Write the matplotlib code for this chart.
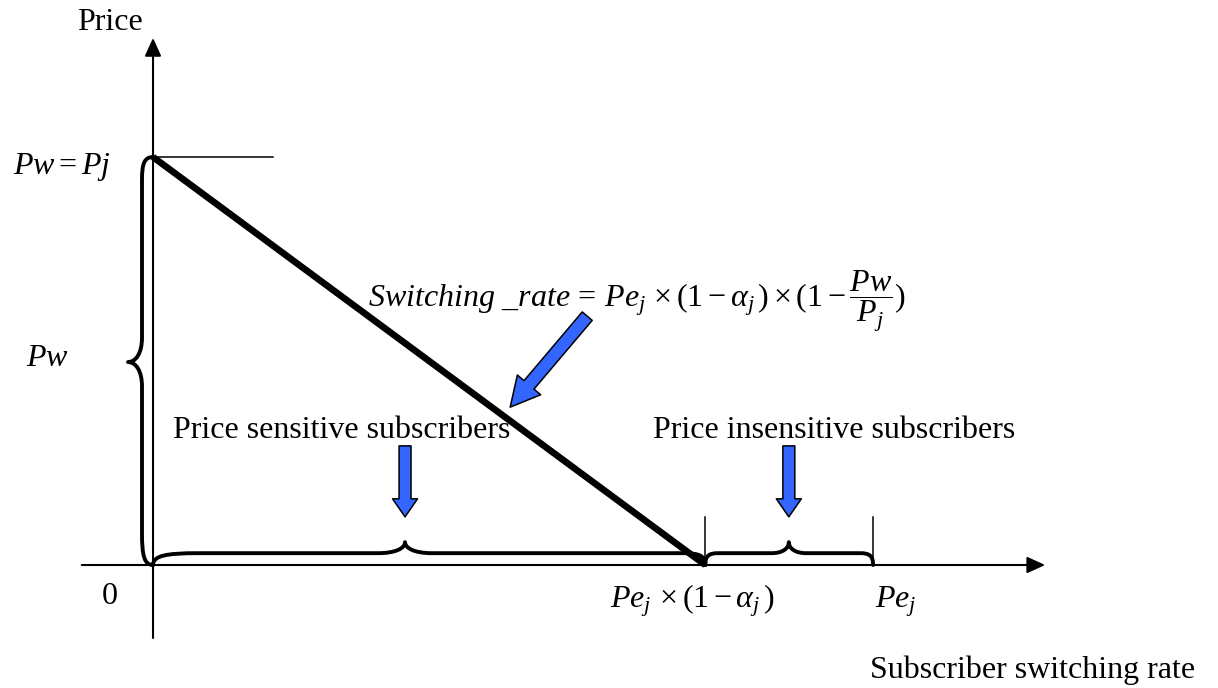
"""Subscriber switching-rate diagram: price vs. switching rate with braces."""

import matplotlib

matplotlib.use("Agg")
import matplotlib.pyplot as plt  # noqa: E402
from matplotlib.patches import FancyArrowPatch, PathPatch  # noqa: E402
from matplotlib.path import Path  # noqa: E402

plt.rcParams["font.family"] = ["Liberation Serif", "DejaVu Serif"]
plt.rcParams["mathtext.fontset"] = "custom"
plt.rcParams["mathtext.rm"] = "Liberation Serif"
plt.rcParams["mathtext.it"] = "Liberation Serif:italic"
plt.rcParams["mathtext.bf"] = "Liberation Serif:bold"

# Model values (price normalised to Pj, rate normalised to Pe_j)
PRICE_TOP = 1.0          # Pw = Pj
PE_J = 1.0               # Pe_j
ALPHA_J = 0.233          # share of price insensitive subscribers
SEGMENT_CUSPS = [0.35, 0.883]   # where each brace points up

AXIS_LABELS = ["Price", "Subscriber switching rate"]
SEGMENT_LABELS = ["Price sensitive subscribers", "Price insensitive subscribers"]
X_TICK_LABELS = ["0", r"$Pe_{j}\,\times(1-\alpha_{j}\,)$", r"$Pe_{j}$"]
Y_TICK_LABELS = [r"$Pw=Pj$", r"$Pw$"]
FORMULA = (r"$Switching\ \_rate\,=\,Pe_{j}\,\times(1-\alpha_{j}\,)"
           r"\times(1-\dfrac{Pw}{P_{j}})$")

BLUE = "#3366ff"
FONT_SIZE = 23


def brace(ax, start, end, cusp, flat, tip, curl_start, curl_cusp, curl_end,
          vertical=False, lw=2.8):
    """Curly brace along s from start to end, bulging by flat/tip across."""
    pts = [
        (start, 0),
        (start, flat * 0.8), (start + curl_start * 0.3, flat), (start + curl_start, flat),
        (cusp - curl_cusp, flat),
        (cusp - curl_cusp * 0.35, flat), (cusp, flat + (tip - flat) * 0.45), (cusp, tip),
        (cusp, flat + (tip - flat) * 0.45), (cusp + curl_cusp * 0.35, flat), (cusp + curl_cusp, flat),
        (end - curl_end, flat),
        (end - curl_end * 0.3, flat), (end, flat * 0.8), (end, 0),
    ]
    codes = ([Path.MOVETO] + [Path.CURVE4] * 3 + [Path.LINETO] + [Path.CURVE4] * 6
             + [Path.LINETO] + [Path.CURVE4] * 3)
    verts = [(t, s) for s, t in pts] if vertical else pts
    ax.add_patch(PathPatch(Path(verts, codes), fill=False, lw=lw, color="black",
                           capstyle="round", joinstyle="round"))


def block_arrow(ax, tail, tip, head_length, head_width, tail_width):
    style = (f"simple,head_length={head_length},head_width={head_width},"
             f"tail_width={tail_width}")
    ax.add_patch(FancyArrowPatch(tail, tip, arrowstyle=style, mutation_scale=1,
                                 shrinkA=0, shrinkB=0, facecolor=BLUE,
                                 edgecolor="black", lw=1.1, zorder=5))


def axis_arrow(ax, start, tip):
    ax.annotate("", xy=tip, xytext=start,
                arrowprops=dict(arrowstyle="-|>,head_length=11,head_width=5",
                                mutation_scale=1, lw=1.5, color="black",
                                shrinkA=0, shrinkB=0))


def main():
    fig = plt.figure(figsize=(12.18, 6.88), dpi=100)
    ax = fig.add_axes([0, 0, 1, 1])
    ax.set_xlim(-0.2125, 1.479)
    ax.set_ylim(-0.3015, 1.385)
    ax.axis("off")

    kink = PE_J * (1 - ALPHA_J)
    edges = [0.0, kink, PE_J]

    # axes
    axis_arrow(ax, (-0.099, 0), (1.239, 0))
    axis_arrow(ax, (0, -0.179), (0, 1.292))
    ax.plot([0, 0.167], [PRICE_TOP, PRICE_TOP], color="black", lw=1.1)
    for x in edges[1:]:
        ax.plot([x, x], [0, 0.118], color="black", lw=1.1)

    # demand line
    ax.plot([0, kink], [PRICE_TOP, 0], color="black", lw=4.8,
            solid_capstyle="butt")

    # braces
    brace(ax, 0, PRICE_TOP, PRICE_TOP * 0.4975, -0.0153, -0.0347,
          0.078, 0.06, 0.056, vertical=True)
    brace(ax, edges[0], edges[1], SEGMENT_CUSPS[0], 0.029, 0.056,
          0.0625, 0.0375, 0.03)
    brace(ax, edges[1], edges[2], SEGMENT_CUSPS[1], 0.029, 0.056,
          0.018, 0.024, 0.018)

    # blue arrows
    for cusp in SEGMENT_CUSPS:
        block_arrow(ax, (cusp, 0.292), (cusp, 0.118), 13, 18, 8.6)
    block_arrow(ax, (0.603, 0.610), (0.496, 0.387), 21, 22, 9.4)

    # texts
    ax.text(-0.0597, 1.33, AXIS_LABELS[0], fontsize=FONT_SIZE, ha="center", va="center")
    ax.text(0.996, -0.277, AXIS_LABELS[1], fontsize=FONT_SIZE, ha="left", va="baseline")
    ax.text(-0.126, 0.975, Y_TICK_LABELS[0], fontsize=FONT_SIZE, ha="center", va="center")
    ax.text(-0.147, 0.507, Y_TICK_LABELS[1], fontsize=FONT_SIZE, ha="center", va="center")
    ax.text(-0.0597, -0.078, X_TICK_LABELS[0], fontsize=FONT_SIZE, ha="center", va="center")
    ax.text(0.749, -0.105, X_TICK_LABELS[1], fontsize=FONT_SIZE, ha="center", va="baseline")
    ax.text(1.003, -0.105, X_TICK_LABELS[2], fontsize=FONT_SIZE, ha="left", va="baseline")
    ax.text(0.0278, 0.311, SEGMENT_LABELS[0], fontsize=FONT_SIZE, ha="left", va="baseline")
    ax.text(0.694, 0.311, SEGMENT_LABELS[1], fontsize=FONT_SIZE, ha="left", va="baseline")
    ax.text(0.2986, 0.632, FORMULA, fontsize=FONT_SIZE, ha="left", va="baseline")

    fig.savefig("out.png", dpi=100)
    plt.close(fig)


if __name__ == "__main__":
    main()
